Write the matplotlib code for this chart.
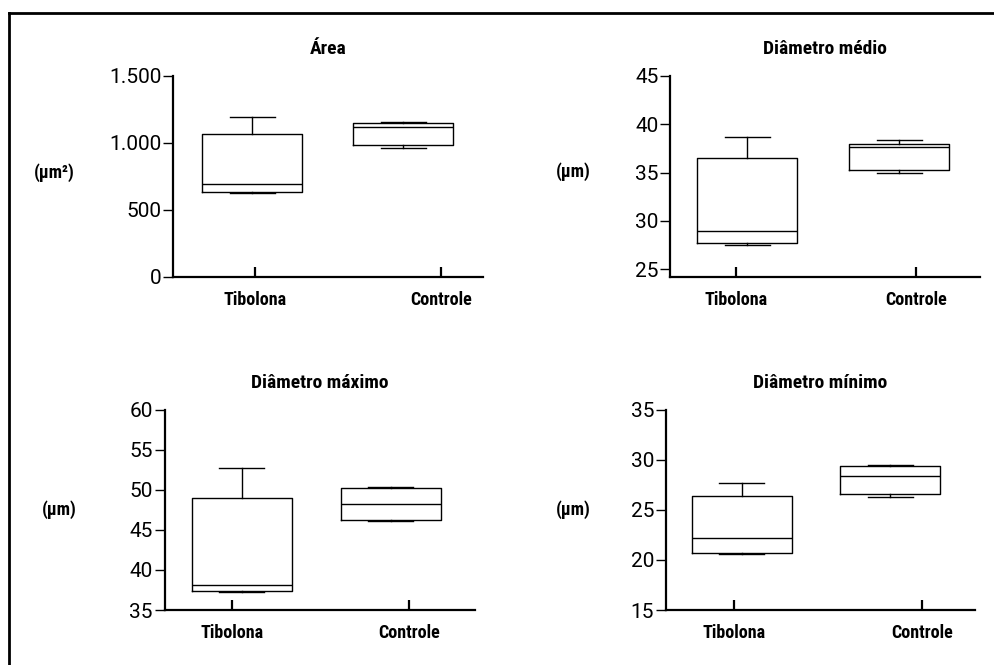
import matplotlib
matplotlib.use("Agg")
import matplotlib.pyplot as plt
from matplotlib import font_manager
from matplotlib.lines import Line2D
from matplotlib.ticker import FuncFormatter

# group labels
groups = ["Tibolona", "Controle"]

# box stats: whislo, q1, med, q3, whishi
area_tib = [625, 635, 690, 1065, 1195]
area_ctl = [963, 982, 1118, 1152, 1155]

medio_tib = [27.5, 27.7, 29.0, 36.55, 38.65]
medio_ctl = [35.0, 35.25, 37.6, 38.0, 38.4]

maximo_tib = [37.3, 37.4, 38.1, 48.95, 52.8]
maximo_ctl = [46.1, 46.25, 48.3, 50.2, 50.4]

minimo_tib = [20.55, 20.7, 22.2, 26.35, 27.7]
minimo_ctl = [26.3, 26.55, 28.4, 29.35, 29.45]

titles = ["Área", "Diâmetro médio", "Diâmetro máximo", "Diâmetro mínimo"]
units = ["(µm²)", "(µm)", "(µm)", "(µm)"]

area_ticks = [0, 500, 1000, 1500]
medio_ticks = [25, 30, 35, 40, 45]
maximo_ticks = [35, 40, 45, 50, 55, 60]
minimo_ticks = [15, 20, 25, 30, 35]

# look for a narrow bold face, the original uses a condensed grotesque
installed = {(f.name, f.stretch) for f in font_manager.fontManager.ttflist}
names = {f.name for f in font_manager.fontManager.ttflist}
bold_stretch = "normal"
if "Roboto Condensed" in names:
    bold_font = ["Roboto Condensed", "DejaVu Sans"]
    lab_size, title_size = 13, 14
elif "Liberation Sans Narrow" in names:
    bold_font = ["Liberation Sans Narrow", "DejaVu Sans"]
    lab_size, title_size = 13, 14
elif any(n == "DejaVu Sans" and s in ("condensed", "semi-condensed") for n, s in installed):
    bold_font = ["DejaVu Sans", "DejaVu Sans"]
    bold_stretch = "condensed"
    lab_size, title_size = 11.5, 12
else:
    bold_font = ["Roboto", "DejaVu Sans"]
    lab_size, title_size = 12, 12.5

num_font = ["Roboto", "DejaVu Sans"]


def make_stats(vals, label):
    return {"whislo": vals[0], "q1": vals[1], "med": vals[2],
            "q3": vals[3], "whishi": vals[4], "label": label}


def thousands(v, pos):
    return "{:,.0f}".format(v).replace(",", ".")


fig = plt.figure(figsize=(9.95, 6.65), dpi=100)

# left / bottom / width / height in figure fractions
panels = [
    dict(rect=[0.1739, 0.5835, 0.3116, 0.3023], data=(area_tib, area_ctl),
         ticks=area_ticks, ylim=(0, 1500), boxpos=[0.79, 2.30], xt=[0.82, 2.68],
         ylab=(-0.384, 0.517)),
    dict(rect=[0.6737, 0.5835, 0.3116, 0.3023], data=(medio_tib, medio_ctl),
         ticks=medio_ticks, ylim=(24.2, 45), boxpos=[0.77, 2.29], xt=[0.66, 2.46],
         ylab=(-0.314, 0.522)),
    dict(rect=[0.1655, 0.0827, 0.3119, 0.3008], data=(maximo_tib, maximo_ctl),
         ticks=maximo_ticks, ylim=(35, 60), boxpos=[0.77, 2.26], xt=[0.67, 2.44],
         ylab=(-0.34, 0.5)),
    dict(rect=[0.6693, 0.0827, 0.3106, 0.3008], data=(minimo_tib, minimo_ctl),
         ticks=minimo_ticks, ylim=(15, 35), boxpos=[0.76, 2.25], xt=[0.68, 2.57],
         ylab=(-0.30, 0.5)),
]

for i, p in enumerate(panels):
    ax = fig.add_axes(p["rect"])
    stats = [make_stats(p["data"][0], groups[0]), make_stats(p["data"][1], groups[1])]
    lw = 1.0
    ax.bxp(stats, positions=p["boxpos"], widths=1.0, showfliers=False,
           capwidths=0.45,
           boxprops=dict(color="black", linewidth=lw),
           medianprops=dict(color="black", linewidth=lw),
           whiskerprops=dict(color="black", linewidth=lw),
           capprops=dict(color="black", linewidth=lw))

    ax.set_xlim(0, 3.1)
    ax.set_ylim(*p["ylim"])
    ax.set_yticks(p["ticks"])
    if i == 0:
        ax.yaxis.set_major_formatter(FuncFormatter(thousands))
    ax.set_xticks(p["xt"])
    ax.set_xticklabels(groups)

    for s in ["top", "right"]:
        ax.spines[s].set_visible(False)
    for s in ["left", "bottom"]:
        ax.spines[s].set_linewidth(1.6)

    ax.tick_params(axis="x", direction="in", length=7.5, width=1.6, pad=10)
    ax.tick_params(axis="y", direction="out", length=7.5, width=1.0, pad=1)
    for lab in ax.get_xticklabels():
        lab.set_fontfamily(bold_font)
        lab.set_fontweight("bold")
        lab.set_fontstretch(bold_stretch)
        lab.set_fontsize(lab_size)
    for lab in ax.get_yticklabels():
        lab.set_fontfamily(num_font)
        lab.set_fontweight("normal")
        lab.set_fontsize(15)

    ax.text(0.5, 1.134, titles[i], transform=ax.transAxes, ha="center", va="center",
            family=bold_font, fontweight="bold", fontstretch=bold_stretch,
            fontsize=title_size)
    ax.text(p["ylab"][0], p["ylab"][1], units[i], transform=ax.transAxes,
            ha="center", va="center", family=bold_font, fontweight="bold",
            fontstretch=bold_stretch, fontsize=lab_size)

# frame lines at the top and left edge of the figure
fig.add_artist(Line2D([8.5 / 995, 1.0], [1 - 12.5 / 665, 1 - 12.5 / 665],
                      transform=fig.transFigure, color="black", linewidth=2.0))
fig.add_artist(Line2D([8.5 / 995, 8.5 / 995], [1 - 12.5 / 665, 0.0],
                      transform=fig.transFigure, color="black", linewidth=2.0))

plt.savefig("out.png", dpi=100)
